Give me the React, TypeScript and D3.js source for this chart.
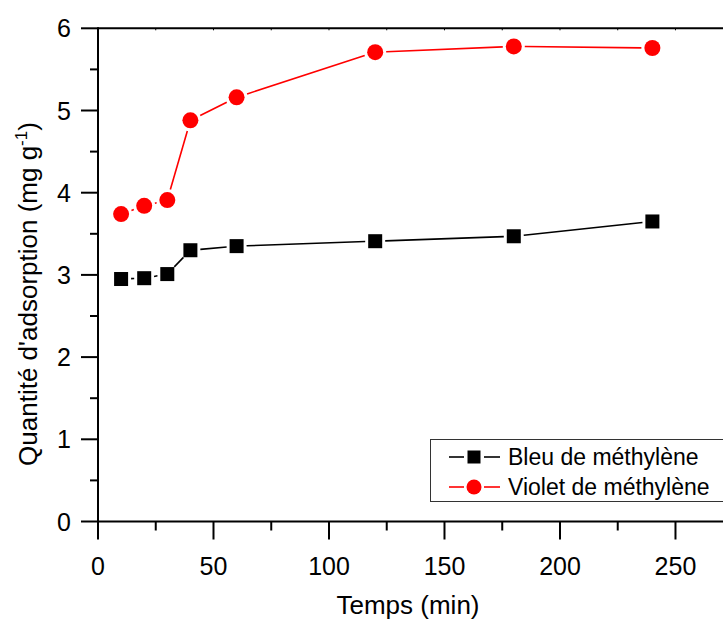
import React from "react";
import * as d3 from "d3";

const times = [10, 20, 30, 40, 60, 120, 180, 240];
const bleu = [2.95, 2.96, 3.01, 3.3, 3.35, 3.41, 3.47, 3.65];
const violet = [3.74, 3.84, 3.91, 4.88, 5.16, 5.71, 5.78, 5.76];
const xTicks = [0, 50, 100, 150, 200, 250];
const yTicks = [0, 1, 2, 3, 4, 5, 6];
const seriesNames = ["Bleu de méthylène", "Violet de méthylène"];
const xTitle = "Temps (min)";
const yTitle = "Quantité d'adsorption (mg g";

const W = 723;
const H = 619;
const FONT = "Arial, 'Liberation Sans', sans-serif";

export default function App() {
  const x = d3.scaleLinear().domain([0, 272]).range([98, 726.3]);
  const y = d3.scaleLinear().domain([0, 6]).range([521.5, 28.3]);
  const x0 = x(0);
  const yb = y(0);
  const yt = y(6);

  const segs = (vals: number[], gap: number) => {
    const out: { x1: number; y1: number; x2: number; y2: number }[] = [];
    for (let i = 0; i < vals.length - 1; i++) {
      const ax = x(times[i]), ay = y(vals[i]);
      const bx = x(times[i + 1]), by = y(vals[i + 1]);
      const dx = bx - ax, dy = by - ay;
      const len = Math.hypot(dx, dy);
      if (len <= 2 * gap) continue;
      const ux = dx / len, uy = dy / len;
      out.push({ x1: ax + ux * gap, y1: ay + uy * gap, x2: bx - ux * gap, y2: by - uy * gap });
    }
    return out;
  };

  const xMinor = d3.range(25, 275, 50);
  const yMinor = d3.range(0.5, 6, 1);
  const topTicks = d3.range(0, 272, 25);

  return (
    <svg width={W} height={H} style={{ position: "absolute", left: 0, top: 0, background: "#fff" }} fontFamily={FONT}>
      <rect x={0} y={0} width={W} height={H} fill="#fff" />
      {/* frame */}
      <line x1={x0} y1={yt} x2={W + 5} y2={yt} stroke="#000" strokeWidth={2} />
      <line x1={x0} y1={yb} x2={W + 5} y2={yb} stroke="#000" strokeWidth={2} />
      <line x1={x0} y1={yt - 1} x2={x0} y2={yb + 1} stroke="#000" strokeWidth={2} />
      {/* x ticks */}
      {xTicks.map((t) => (
        <g key={"xt" + t}>
          <line x1={x(t)} x2={x(t)} y1={yb} y2={yb + 18} stroke="#000" strokeWidth={2} />
          <text x={x(t)} y={575} textAnchor="middle" fontSize={25}>{t}</text>
        </g>
      ))}
      {xMinor.map((t) => (
        <line key={"xm" + t} x1={x(t)} x2={x(t)} y1={yb} y2={yb + 9} stroke="#000" strokeWidth={2} />
      ))}
      {topTicks.map((t) => (
        <line key={"tt" + t} x1={x(t)} x2={x(t)} y1={yt} y2={yt + 2} stroke="#000" strokeWidth={1} />
      ))}
      {/* y ticks */}
      {yTicks.map((t) => (
        <g key={"yt" + t}>
          <line x1={x0 - 17} x2={x0} y1={y(t)} y2={y(t)} stroke="#000" strokeWidth={2} />
          <text x={71} y={y(t) + 9} textAnchor="end" fontSize={25}>{t}</text>
        </g>
      ))}
      {yMinor.map((t) => (
        <line key={"ym" + t} x1={x0 - 8} x2={x0} y1={y(t)} y2={y(t)} stroke="#000" strokeWidth={2} />
      ))}
      {/* titles */}
      <text x={408} y={614} textAnchor="middle" fontSize={26}>{xTitle}</text>
      <text transform="translate(37,294) rotate(-90)" textAnchor="middle" fontSize={26}>
        {yTitle}
        <tspan dy={-10} fontSize={17}>-1</tspan>
        <tspan dy={10}>)</tspan>
      </text>
      {/* series lines */}
      {segs(bleu, 10).map((s, i) => (
        <line key={"bl" + i} {...s} stroke="#000" strokeWidth={1.6} />
      ))}
      {segs(violet, 11).map((s, i) => (
        <line key={"vl" + i} {...s} stroke="#ff0000" strokeWidth={1.6} />
      ))}
      {/* markers */}
      {times.map((t, i) => (
        <rect key={"bm" + i} x={x(t) - 7} y={y(bleu[i]) - 7} width={14} height={14} fill="#000" />
      ))}
      {times.map((t, i) => (
        <circle key={"vm" + i} cx={x(t)} cy={y(violet[i])} r={8} fill="#ff0000" />
      ))}
      {/* legend */}
      <rect x={430.5} y={439.5} width={300} height={62} fill="#fff" stroke="#333" strokeWidth={1} />
      <line x1={449} x2={464} y1={457} y2={457} stroke="#000" strokeWidth={1.6} />
      <line x1={484} x2={500} y1={457} y2={457} stroke="#000" strokeWidth={1.6} />
      <rect x={474 - 6.5} y={457 - 6.5} width={13} height={13} fill="#000" />
      <text x={508} y={465} fontSize={23}>{seriesNames[0]}</text>
      <line x1={449} x2={464} y1={487} y2={487} stroke="#ff0000" strokeWidth={1.6} />
      <line x1={484} x2={500} y1={487} y2={487} stroke="#ff0000" strokeWidth={1.6} />
      <circle cx={474} cy={487} r={7.5} fill="#ff0000" />
      <text x={508} y={495} fontSize={23}>{seriesNames[1]}</text>
    </svg>
  );
}
